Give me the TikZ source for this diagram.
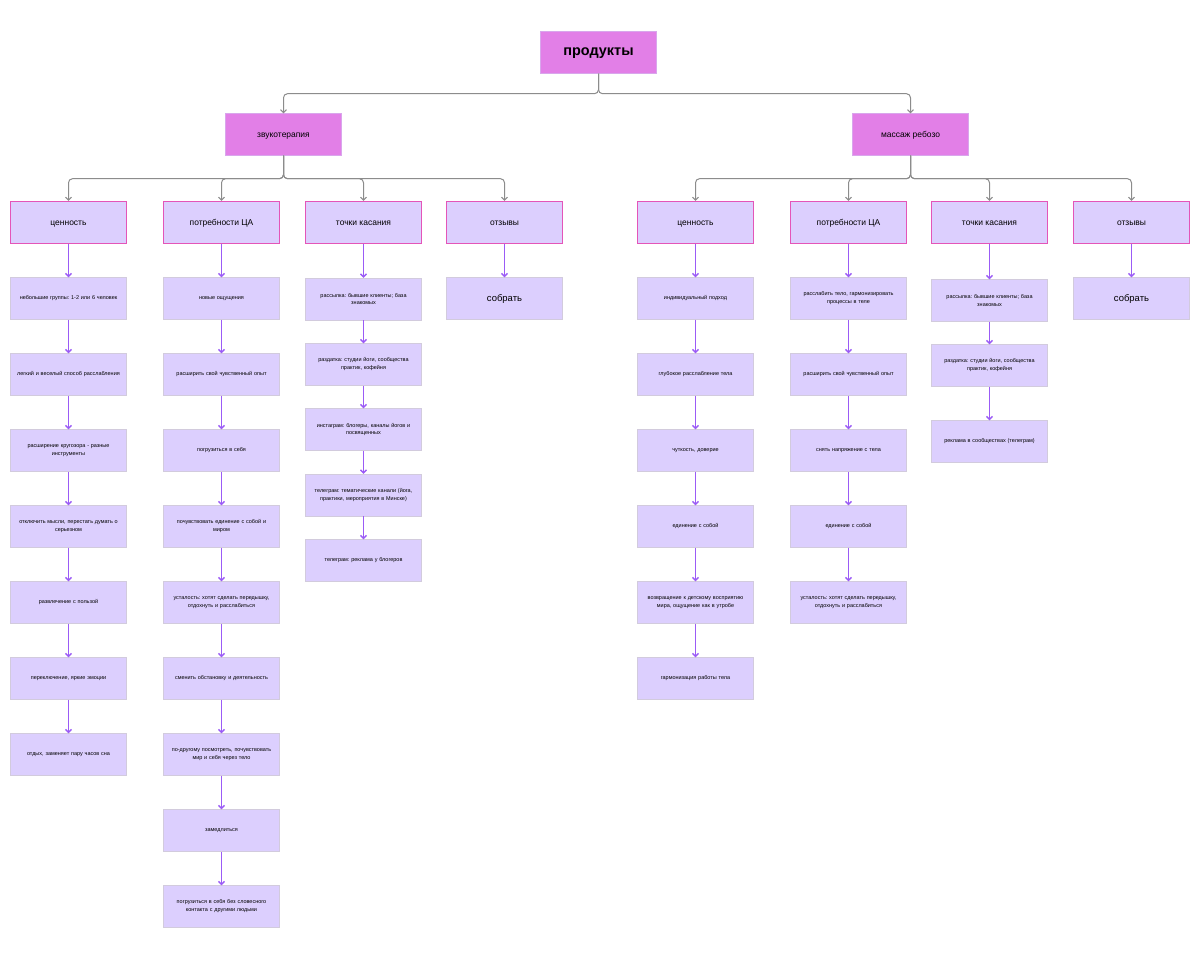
\documentclass[tikz,border=0pt]{standalone}
\usepackage{fontspec}
\setmainfont{Liberation Sans}
\usetikzlibrary{arrows.meta}

\definecolor{topicfill}{HTML}{E27FE7}
\definecolor{topicline}{HTML}{D9A6EC}
\definecolor{itemfill}{HTML}{DCCFFE}
\definecolor{itemline}{HTML}{D2CBDD}
\definecolor{catline}{HTML}{E455B8}
\definecolor{flowline}{HTML}{9B5BF6}
\definecolor{busline}{HTML}{8C8C8C}

\tikzset{
  box/.style={rectangle, draw, minimum width=116bp, minimum height=42bp,
    inner sep=1pt, align=center},
  oneline/.style={text height=0.72em, text depth=0.2em},
  rootbox/.style={box, oneline, fill=topicfill, draw=topicline,
    font=\bfseries\fontsize{14.5}{16}\selectfont},
  topic/.style={box, oneline, fill=topicfill, draw=topicline,
    font=\fontsize{8.5}{10}\selectfont},
  cat/.style={box, oneline, fill=itemfill, draw=catline, line width=1.2bp,
    font=\fontsize{8.5}{10}\selectfont},
  item/.style={box, fill=itemfill, draw=itemline, text width=112bp,
    font=\fontsize{5.5}{8}\selectfont},
  bigitem/.style={item, oneline, font=\fontsize{9.5}{11}\selectfont},
  bus/.style={draw=busline, line width=1bp, rounded corners=4bp, ->},
  flow/.style={draw=flowline, line width=1.4bp, ->}
}

\begin{document}
\frenchspacing
\begin{tikzpicture}[x=1bp, y=-1bp, >={Straight Barb[length=3pt,width=6pt]}]
  \fill[white] (0,0) rectangle (1200,971);

  % top levels
  \node[rootbox] (prod) at (598.5,52.5) {продукты};
  \node[topic] (zvuk) at (283.5,134.5) {звукотерапия};
  \node[topic] (reboz) at (910.5,134.5) {массаж ребозо};
  \foreach \s in {zvuk, reboz}
    \draw[bus] (prod.south) -- ++(0,20) -| (\s.north);

  % categories
  \foreach \n/\x/\t in {l1/68.5/ценность, l2/221.5/потребности ЦА,
      l3/363.5/точки касания, l4/504.5/отзывы} {
    \node[cat, alias=\n-0] (\n) at (\x,222.5) {\t};
    \draw[bus] (zvuk.south) -- ++(0,23) -| (\n.north);
  }
  \foreach \n/\x/\t in {r1/695.5/ценность, r2/848.5/потребности ЦА,
      r3/989.5/точки касания, r4/1131.5/отзывы} {
    \node[cat, alias=\n-0] (\n) at (\x,222.5) {\t};
    \draw[bus] (reboz.south) -- ++(0,23) -| (\n.north);
  }

  % звукотерапия: ценность
  \foreach \y/\t [count=\i, remember=\i as \j (initially 0)] in {
      298.5/{небольшие группы: 1-2 или 6 человек},
      374.5/{легкий и веселый способ расслабления},
      450.5/{расширение кругозора - разные\\инструменты},
      526.5/{отключить мысли, перестать думать о\\серьезном},
      602.5/{развлечение с пользой},
      678.5/{переключение, яркие эмоции},
      754.5/{отдых, заменяет пару часов сна}} {
    \node[item] (l1-\i) at (68.5,\y) {\t};
    \draw[flow] (l1-\j.south) -- (l1-\i.north);
  }

  % звукотерапия: потребности ЦА
  \foreach \y/\t [count=\i, remember=\i as \j (initially 0)] in {
      298.5/{новые ощущения},
      374.5/{расширить свой чувственный опыт},
      450.5/{погрузиться в себя},
      526.5/{почувствовать единение с собой и\\миром},
      602.5/{усталость: хотят сделать передышку,\\отдохнуть и расслабиться},
      678.5/{сменить обстановку и деятельность},
      754.5/{по-другому посмотреть, почувствовать\\мир и себя через тело},
      830.5/{замедлиться},
      906.5/{погрузиться в себя без словесного\\контакта с другими людьми}} {
    \node[item] (l2-\i) at (221.5,\y) {\t};
    \draw[flow] (l2-\j.south) -- (l2-\i.north);
  }

  % звукотерапия: точки касания
  \foreach \y/\t [count=\i, remember=\i as \j (initially 0)] in {
      299/{рассылка: бывшие клиенты; база\\знакомых},
      364.5/{раздатка: студии йоги, сообщества\\практик, кофейня},
      429.5/{инстаграм: блогеры, каналы йогов и\\посвященных},
      495/{телеграм: тематические канали (йога,\\практики, мероприятия в Минске)},
      560.5/{телеграм: реклама у блогеров}} {
    \node[item] (l3-\i) at (363.5,\y) {\t};
    \draw[flow] (l3-\j.south) -- (l3-\i.north);
  }

  % звукотерапия: отзывы
  \node[bigitem] (l4-1) at (504.5,298.5) {собрать};
  \draw[flow] (l4.south) -- (l4-1.north);

  % массаж ребозо: ценность
  \foreach \y/\t [count=\i, remember=\i as \j (initially 0)] in {
      298.5/{индивидуальный подход},
      374.5/{глубокое расслабление тела},
      450.5/{чуткость, доверие},
      526.5/{единение с собой},
      602.5/{возвращение к детскому восприятию\\мира, ощущение как в утробе},
      678.5/{гармонизация работы тела}} {
    \node[item] (r1-\i) at (695.5,\y) {\t};
    \draw[flow] (r1-\j.south) -- (r1-\i.north);
  }

  % массаж ребозо: потребности ЦА
  \foreach \y/\t [count=\i, remember=\i as \j (initially 0)] in {
      298.5/{расслабить тело, гармонизировать\\процессы в теле},
      374.5/{расширить свой чувственный опыт},
      450.5/{снять напряжение с тела},
      526.5/{единение с собой},
      602.5/{усталость: хотят сделать передышку,\\отдохнуть и расслабиться}} {
    \node[item] (r2-\i) at (848.5,\y) {\t};
    \draw[flow] (r2-\j.south) -- (r2-\i.north);
  }

  % массаж ребозо: точки касания
  \foreach \y/\t [count=\i, remember=\i as \j (initially 0)] in {
      300.5/{рассылка: бывшие клиенты; база\\знакомых},
      365.5/{раздатка: студии йоги, сообщества\\практик, кофейня},
      441.5/{реклама в сообществах (телеграм)}} {
    \node[item] (r3-\i) at (989.5,\y) {\t};
    \draw[flow] (r3-\j.south) -- (r3-\i.north);
  }

  % массаж ребозо: отзывы
  \node[bigitem] (r4-1) at (1131.5,298.5) {собрать};
  \draw[flow] (r4.south) -- (r4-1.north);
\end{tikzpicture}
\end{document}
